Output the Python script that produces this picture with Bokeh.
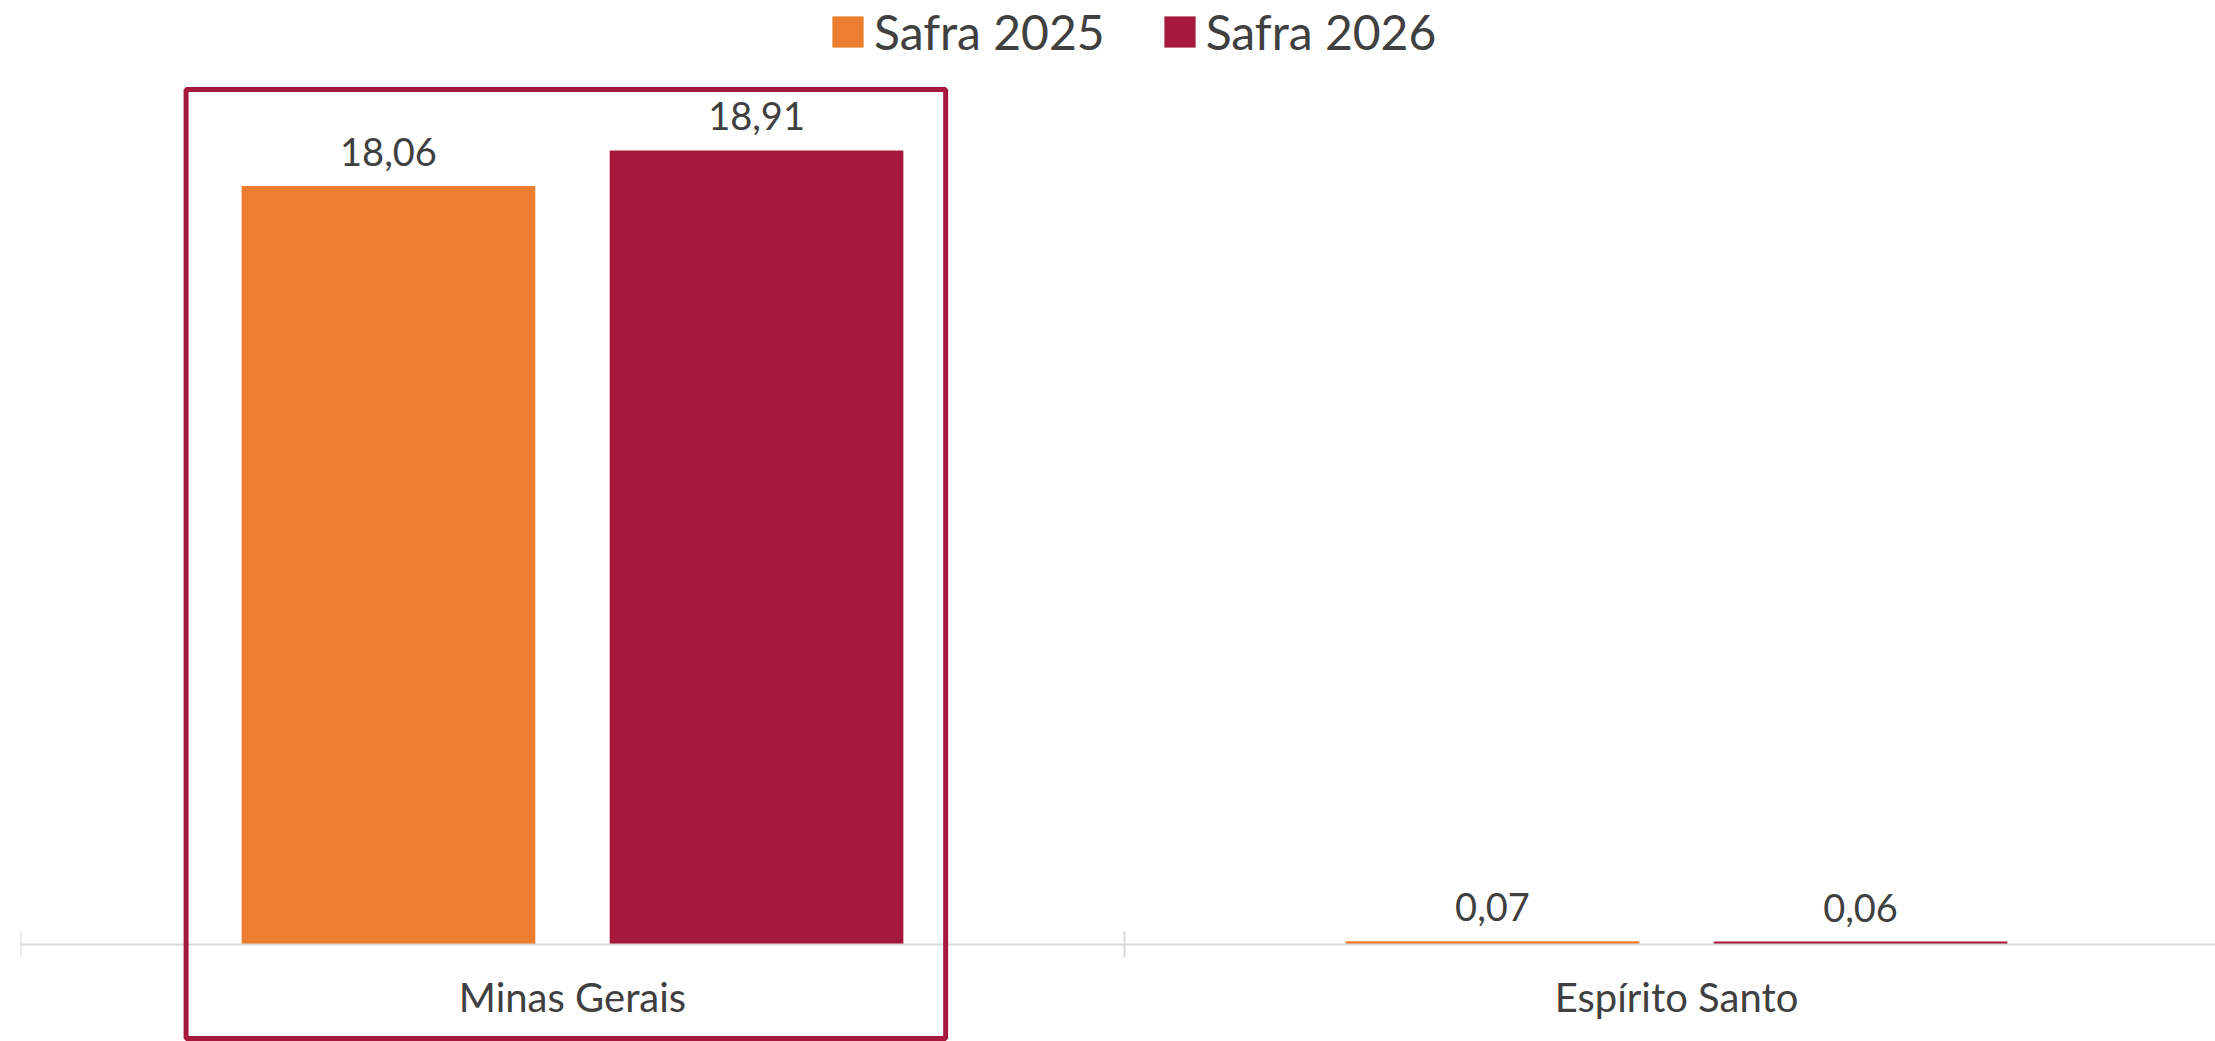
import numpy as np
from bokeh.plotting import figure
from bokeh.models import (Range1d, FixedTicker, Legend, LegendItem, BoxAnnotation,
                          ColumnDataSource)
from bokeh.core.properties import value
from bokeh.embed import file_html
from bokeh.resources import INLINE

categories = ["Minas Gerais", "Espírito Santo"]
series_names = ["Safra 2025", "Safra 2026"]
safra_2025 = [18.06, 0.07]
safra_2026 = [18.91, 0.06]

COL_2025 = "#ED7D31"
COL_2026 = "#A6193C"
TEXT = "#404040"
FONT = "Lato"

W, H = 2215, 1041
left_border = 20
cat_px = 1104.0
px_per_unit = 41.97
axis_y_canvas = 943.6

x_end = (W - left_border) / cat_px
y_top = axis_y_canvas / px_per_unit
y_bottom = -(H - axis_y_canvas) / px_per_unit

p = figure(width=W, height=H, output_backend="svg", toolbar_location=None,
           x_range=Range1d(0, x_end), y_range=Range1d(y_bottom, y_top),
           min_border_left=left_border, min_border_right=0,
           min_border_top=0, min_border_bottom=0)
p.outline_line_color = None
p.grid.visible = False
p.yaxis.visible = False

centers = np.arange(len(categories)) + 0.5
offset = 0.1667
bar_w = 0.266

def fmt(v):
    return f"{v:.2f}".replace(".", ",")

renderers = []
for vals, col, sign in [(safra_2025, COL_2025, -1), (safra_2026, COL_2026, 1)]:
    src = ColumnDataSource(dict(x=centers + sign * offset, top=vals,
                                label=[fmt(v) for v in vals]))
    r = p.vbar(x="x", top="top", bottom=0, width=bar_w, source=src,
               fill_color=col, line_color=None)
    renderers.append(r)
    p.text(x="x", y="top", text="label", source=src, text_font=value(FONT),
           text_font_size="38px", text_align="center", text_baseline="alphabetic",
           y_offset=-34, text_color=TEXT)

ax = p.xaxis[0]
ax.fixed_location = 0
ax.ticker = FixedTicker(ticks=list(centers),
                        minor_ticks=list(np.arange(len(categories) + 1)))
ax.major_label_overrides = {float(c): n for c, n in zip(centers, categories)}
ax.axis_line_color = "#d9d9d9"
ax.axis_line_width = 2
ax.major_tick_line_color = None
ax.major_tick_out = 0
ax.major_tick_in = 0
ax.minor_tick_line_color = "#d9d9d9"
ax.minor_tick_line_width = 2
ax.minor_tick_in = 13
ax.minor_tick_out = 13
ax.major_label_text_font = FONT
ax.major_label_text_font_size = "40px"
ax.major_label_text_color = TEXT
ax.major_label_standoff = 16

box_c = centers[0] - 0.006
box = BoxAnnotation(left=box_c - 0.344, right=box_c + 0.344,
                    top=20.36, bottom=y_bottom + 0.07,
                    fill_alpha=0, line_color=COL_2026, line_alpha=1.0, line_width=5)
p.add_layout(box)

legend = Legend(items=[LegendItem(label=n, renderers=[r]) for n, r in zip(series_names, renderers)],
                orientation="horizontal", location=(808, 981),
                label_text_font=FONT, label_text_font_size="48px",
                label_text_color=TEXT, glyph_width=39, glyph_height=39,
                label_standoff=7, spacing=55, padding=0, margin=0,
                border_line_color=None, background_fill_alpha=0)
p.add_layout(legend, "center")

open("out.html", "w").write(file_html(p, INLINE))
